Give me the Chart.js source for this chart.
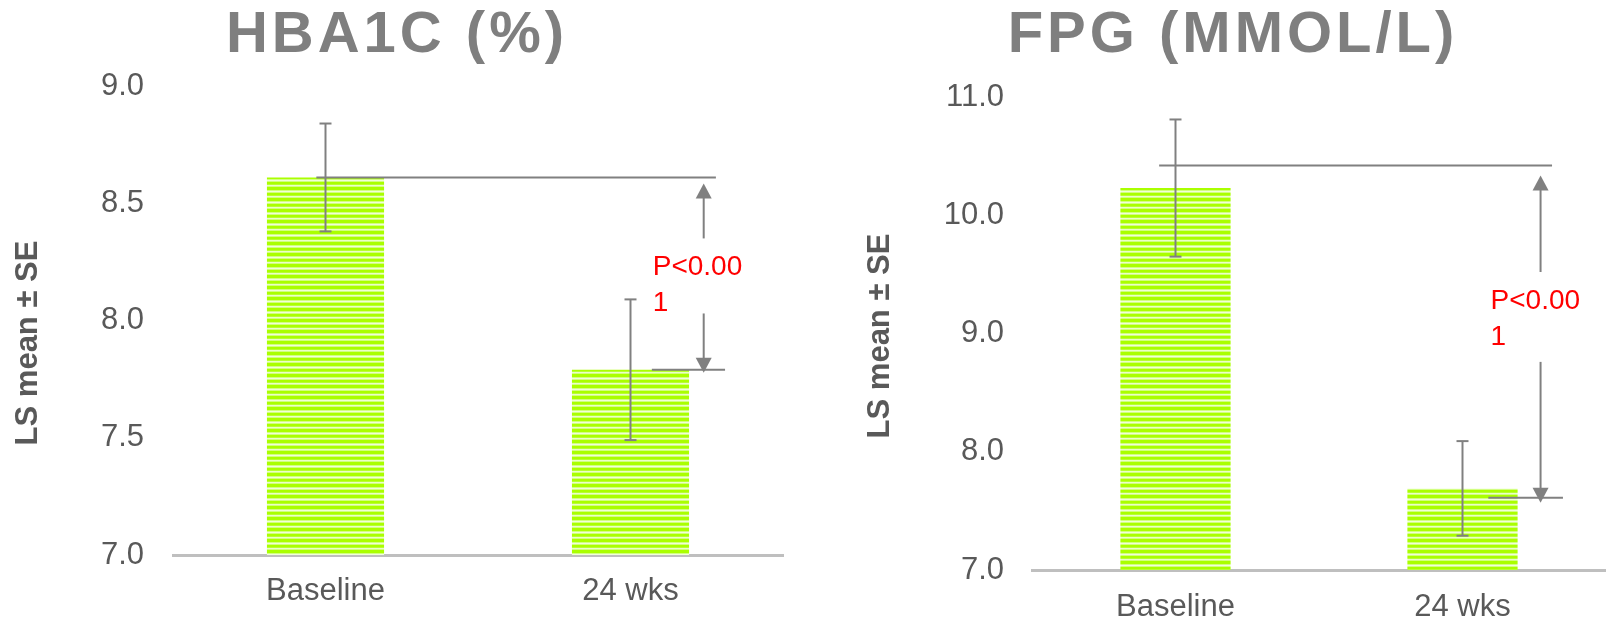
<!DOCTYPE html>
<html lang="en">
<head>
  <meta charset="UTF-8" />
  <title>HbA1c and FPG</title>
  <script src="https://cdn.jsdelivr.net/npm/chart.js"></script>
  <style>
    * { margin: 0; padding: 0; box-sizing: border-box; }
    body { background: #ffffff; width: 1606px; height: 622px; overflow: hidden; }
    .row { display: flex; }
    canvas { display: block; }
  </style>
</head>
<body>
  <div class="row">
    <canvas id="hba" width="800" height="622"></canvas>
    <canvas id="fpg" width="806" height="622"></canvas>
  </div>

  <script>
    // Data
    const categories = ['Baseline', '24 wks'];

    const hbaMeans = [8.61, 7.79];
    const hbaSE = [0.23, 0.30];
    const hbaTicks = [7.0, 7.5, 8.0, 8.5, 9.0];
    const hbaBracket = [8.61, 7.79];

    const fpgMeans = [10.23, 7.69];
    const fpgSE = [0.58, 0.40];
    const fpgTicks = [7.0, 8.0, 9.0, 10.0, 11.0];
    const fpgBracket = [10.42, 7.61];

    const FONT = '"Liberation Sans", Arial, sans-serif';
    const GREY = '#808080';
    const TEXT = '#595959';

    // striped fill like the original bars
    function stripes() {
      const c = document.createElement('canvas');
      c.width = 4; c.height = 11;
      const g = c.getContext('2d');
      const rows = ['#aaff00', '#aaff00', '#aaff00', '#d2ff80', '#f0ffd8', '#d2ff80',
                    '#aaff00', '#aaff00', '#b8ff33', '#eaffc8', '#d2ff80'];
      rows.forEach((col, i) => { g.fillStyle = col; g.fillRect(0, i, 4, 1); });
      return g.createPattern(c, 'repeat');
    }

    function line(ctx, x1, y1, x2, y2) {
      ctx.beginPath();
      ctx.moveTo(x1, y1);
      ctx.lineTo(x2, y2);
      ctx.stroke();
    }

    function head(ctx, x, tipY, dir) {
      // dir -1 = pointing up, 1 = pointing down
      ctx.beginPath();
      ctx.moveTo(x, tipY);
      ctx.lineTo(x - 8, tipY - dir * 15);
      ctx.lineTo(x + 8, tipY - dir * 15);
      ctx.closePath();
      ctx.fill();
    }

    const overlay = {
      id: 'overlay',
      afterDatasetsDraw(chart, args, o) {
        const ctx = chart.ctx;
        const x = chart.scales.x, y = chart.scales.y;
        const means = chart.data.datasets[0].data;
        ctx.save();
        ctx.strokeStyle = GREY;
        ctx.fillStyle = GREY;
        ctx.lineWidth = 2;

        // error bars
        means.forEach((m, i) => {
          const px = x.getPixelForValue(i);
          const top = y.getPixelForValue(m + o.se[i]);
          const bot = y.getPixelForValue(m - o.se[i]);
          line(ctx, px, top, px, bot);
          line(ctx, px - 6, top, px + 6, top);
          line(ctx, px - 6, bot, px + 6, bot);
        });

        // bracket lines
        const yTop = y.getPixelForValue(o.bracket[0]);
        const yBot = y.getPixelForValue(o.bracket[1]);
        line(ctx, x.getPixelForValue(o.topSpan[0]), yTop, x.getPixelForValue(o.topSpan[1]), yTop);
        line(ctx, x.getPixelForValue(o.botSpan[0]), yBot, x.getPixelForValue(o.botSpan[1]), yBot);

        // arrows
        const ax = x.getPixelForValue(o.arrowX);
        const upTip = yTop + o.tipGap[0];
        const downTip = yBot + o.tipGap[1];
        line(ctx, ax, upTip + 14, ax, y.getPixelForValue(o.shaft[0]));
        head(ctx, ax, upTip, -1);
        line(ctx, ax, y.getPixelForValue(o.shaft[1]), ax, downTip - 14);
        head(ctx, ax, downTip, 1);

        // p value
        ctx.fillStyle = '#ff0000';
        ctx.font = '28px ' + FONT;
        ctx.textAlign = 'left';
        ctx.textBaseline = 'alphabetic';
        const ty = y.getPixelForValue(o.textY);
        ctx.fillText('P<0.00', ax + o.textDx, ty);
        ctx.fillText('1', ax + o.textDx, ty + 35.5);
        ctx.restore();
      },
      afterDraw(chart, args, o) {
        const ctx = chart.ctx;
        ctx.save();
        // big title
        ctx.fillStyle = '#7f7f7f';
        ctx.font = 'bold 58px ' + FONT;
        ctx.letterSpacing = '4px';
        ctx.textAlign = 'left';
        ctx.textBaseline = 'alphabetic';
        const w = ctx.measureText(o.title).width - 4;
        ctx.fillText(o.title, o.titleX - w / 2, 52);
        ctx.letterSpacing = '0px';
        // y axis title
        ctx.fillStyle = TEXT;
        ctx.font = 'bold 31px ' + FONT;
        ctx.translate(o.yTitle[0], o.yTitle[1]);
        ctx.rotate(-Math.PI / 2);
        ctx.textAlign = 'center';
        ctx.textBaseline = 'middle';
        ctx.fillText('LS mean \u00b1 SE', 0, 0);
        ctx.restore();
      }
    };

    function makeChart(id, means, ticks, cfg) {
      return new Chart(document.getElementById(id), {
        type: 'bar',
        data: {
          labels: categories,
          datasets: [{
            data: means,
            backgroundColor: stripes(),
            borderWidth: 0,
            categoryPercentage: 1,
            barPercentage: 0.384
          }]
        },
        options: {
          responsive: false,
          animation: false,
          layout: { padding: { top: cfg.top, right: cfg.right, left: 0, bottom: 0 } },
          plugins: {
            legend: { display: false },
            tooltip: { enabled: false },
            overlay: cfg.overlay
          },
          scales: {
            x: {
              grid: { display: false, drawTicks: false },
              border: { display: true, color: '#bfbfbf', width: 3 },
              ticks: { color: TEXT, font: { family: FONT, size: 31 }, padding: cfg.xPad },
              afterFit: (s) => { s.height = cfg.xHeight; }
            },
            y: {
              min: ticks[0],
              max: ticks[ticks.length - 1],
              grid: { display: false, drawTicks: false },
              border: { display: false },
              ticks: {
                color: TEXT,
                font: { family: FONT, size: 31 },
                padding: cfg.yPad,
                callback: (v) => Number(v).toFixed(1)
              },
              afterBuildTicks: (s) => { s.ticks = ticks.map((v) => ({ value: v })); },
              afterFit: (s) => { s.width = cfg.yWidth; }
            }
          }
        },
        plugins: [overlay]
      });
    }

    makeChart('hba', hbaMeans, hbaTicks, {
      top: 86, right: 17, xHeight: 67, xPad: 18, yWidth: 173, yPad: 29,
      overlay: {
        title: 'HBA1C (%)', titleX: 395, yTitle: [28, 343],
        se: hbaSE, bracket: hbaBracket,
        topSpan: [-0.03, 1.28], botSpan: [1.07, 1.31],
        arrowX: 1.24, tipGap: [6, 3], shaft: [8.35, 8.03],
        textY: 8.194, textDx: -51
      }
    });

    makeChart('fpg', fpgMeans, fpgTicks, {
      top: 97, right: 0, xHeight: 52, xPad: 19, yWidth: 232, yPad: 28,
      overlay: {
        title: 'FPG (MMOL/L)', titleX: 431, yTitle: [80, 336],
        se: fpgSE, bracket: fpgBracket,
        topSpan: [-0.057, 1.312], botSpan: [1.09, 1.35],
        arrowX: 1.272, tipGap: [10, 5], shaft: [9.52, 8.76],
        textY: 9.207, textDx: -50
      }
    });
  </script>
</body>
</html>
